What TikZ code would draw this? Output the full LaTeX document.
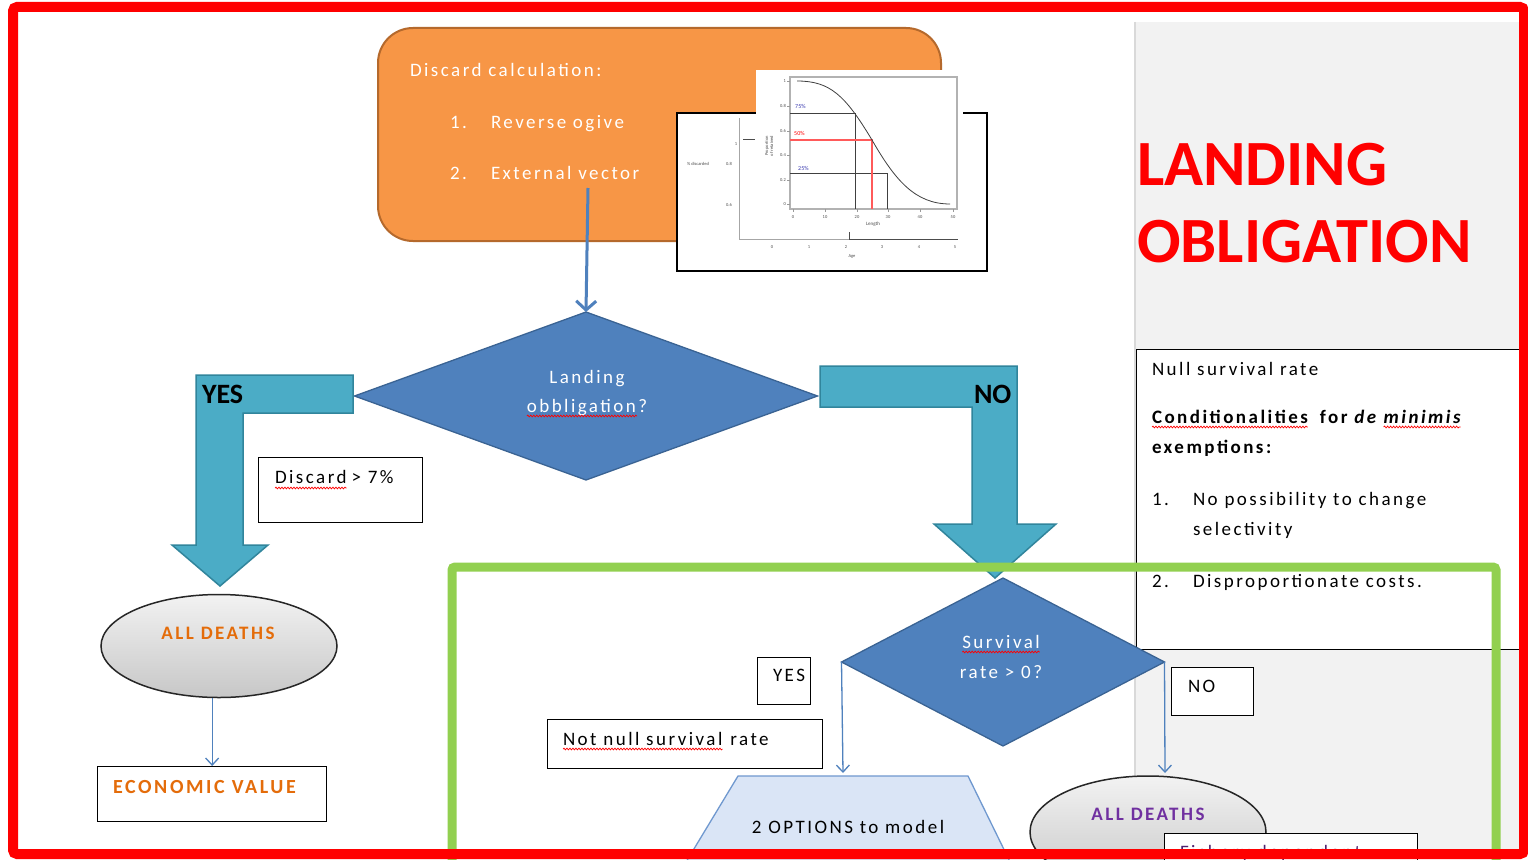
\documentclass[tikz,border=0pt]{standalone}
\usepackage{fontspec}
\setmainfont{Carlito}[LetterSpace=13]
\newfontfamily\titlefont{Carlito}
\newfontfamily\plainfont{Carlito}
\usetikzlibrary{shapes.geometric,arrows.meta,decorations.pathmorphing,calc}

\definecolor{frameRed}{HTML}{FF0000}
\definecolor{frameGreen}{HTML}{92D050}
\definecolor{panelGray}{HTML}{F2F2F2}
\definecolor{orangeFill}{HTML}{F79646}
\definecolor{orangeLine}{HTML}{B5692C}
\definecolor{diaFill}{HTML}{4F81BD}
\definecolor{diaLine}{HTML}{3A6393}
\definecolor{tealFill}{HTML}{4BACC6}
\definecolor{tealLine}{HTML}{31859C}
\definecolor{deathOrange}{HTML}{E46C0A}
\definecolor{deathPurple}{HTML}{7030A0}
\definecolor{trapFill}{HTML}{DAE5F6}
\definecolor{trapLine}{HTML}{6F98CF}
\definecolor{plotBlue}{HTML}{3A3AB0}
\definecolor{plotRed}{HTML}{FF5A5A}

\begin{document}
\begin{tikzpicture}[x=1pt,y=-1pt,
  txt/.style={inner sep=0pt, outer sep=0pt, anchor=base west, font=\fontsize{19}{22}\selectfont},
  ctxt/.style={txt, anchor=base},
  boldtxt/.style={txt, font=\fontsize{19}{22}\selectfont\bfseries},
  tiny/.style={inner sep=0pt, font=\plainfont\fontsize{4.5}{5}\selectfont, text=black!70},
  squig/.style={draw=red, line width=0.7pt, decorate,
    decoration={snake, amplitude=0.9pt, segment length=3pt}},
  textbox/.style={draw=black, line width=1.3pt, fill=white, inner sep=0pt, anchor=north west},
  decision/.style={diamond, draw=diaLine, line width=1.3pt, fill=diaFill, inner sep=0pt, outer sep=0pt},
  bigarrow/.style={fill=tealFill, draw=tealLine, line width=1.5pt, line join=miter},
  biglabel/.style={txt, font=\plainfont\fontsize{28}{32}\selectfont\bfseries},
  flow/.style={draw=diaFill, line width=1.3pt, -{Straight Barb[length=7pt,width=13pt]}},
  deathsel/.style={ellipse, draw=black!85, line width=1.5pt, top color=black!5, bottom color=black!22, inner sep=0pt}
]
\useasboundingbox (0,0) rectangle (1528,859);
\fill[white] (0,0) rectangle (1528,859);

% ---- grey side panel ----
\fill[panelGray] (1135,22) rectangle (1522,859);
\draw[black!15, line width=1.5pt] (1135,22) -- (1135,859);

% ---- title ----
\node[txt, font=\titlefont\fontsize{64.5}{77}\selectfont\bfseries, text=frameRed] (title1) at (1137,185) {LANDING};
\node[txt, font=\titlefont\fontsize{64.5}{77}\selectfont\bfseries, text=frameRed] (title2) at (1137,262) {OBLIGATION};

% ---- discard calculation box ----
\node[draw=orangeLine, line width=2pt, fill=orangeFill, rounded corners=35pt,
      minimum width=563pt, minimum height=213pt, anchor=north west, inner sep=0pt] (calc) at (377,27) {};
\node[txt, text=white] (calcT) at (410,77) {Discard calculation:};
\node[txt, text=white] (calcN1) at (450,128) {1.};
\node[txt, text=white] (calcI1) at (491,128) {Reverse ogive};
\node[txt, text=white] (calcN2) at (450,179) {2.};
\node[txt, text=white] (calcI2) at (491,179) {External vector};

% ---- ogive chart inset: age panel behind ----
\node[draw=black, line width=1.5pt, fill=white, minimum width=310pt, minimum height=158pt,
      anchor=north west, inner sep=0pt] (agePlot) at (676,112) {};
\draw[black!35, line width=0.8pt] (739,118) -- (739,239) -- (958,239);
\draw[black!70, line width=0.8pt] (849,232) -- (849,239) -- (958,239);
\draw[black!70, line width=0.6pt] (743,139) -- (755,139);
\node[tiny] (aLab) at (698,164) {\% discarded};
\node[tiny] (a1) at (736,144) {1};
\node[tiny] (a08) at (729,164) {0.8};
\node[tiny] (a06) at (729,205) {0.6};
\foreach \xv/\lab in {772/0,809/1,846/2,882/3,919/4,955/5}
  \node[tiny] (ax\lab) at (\xv,247) {\lab};
\node[tiny] (ageLab) at (852,256) {Age};

% ---- ogive chart inset: length panel in front ----
\fill[white] (756,70) rectangle (963,229);
\draw[black!30, line width=1.2pt] (790,77) rectangle (957,209);
\foreach \yv/\lab in {81/1,106/0.8,131/0.6,155/0.4,180/0.2,204/0}
  {\draw[black!40, line width=0.5pt] (787,\yv) -- (790,\yv);
   \node[tiny, anchor=east] at (786,\yv) {\lab};}
\foreach \xv/\lab in {793/0,825/10,857/20,888/30,920/40,953/50}
  {\draw[black!40, line width=0.5pt] (\xv,209) -- (\xv,212);
   \node[tiny] at (\xv,217) {\lab};}
\node[tiny, font=\plainfont\fontsize{5}{6}\selectfont] (lenLab) at (873,224) {Length};
\node[tiny, rotate=90, align=center] (propLab) at (769,146) {Proportion\\ of retained};
\draw[black!75, line width=0.7pt] (790,113) -- (855,113) -- (855,209);
\draw[black!75, line width=0.7pt] (790,173) -- (887,173) -- (887,209);
\draw[plotRed, line width=2.4pt] (790,140) -- (872,140) -- (872,209);
\draw[black!75, line width=0.8pt] (797,81) .. controls (830,81) and (845,95) .. (872,140)
      .. controls (895,180) and (915,204) .. (950,204);
\node[tiny, anchor=west, text=plotBlue, font=\plainfont\fontsize{6}{7}\selectfont] (p75) at (795,106) {75\%};
\node[tiny, anchor=west, text=red, font=\plainfont\fontsize{6}{7}\selectfont] (p50) at (794,133) {50\%};
\node[tiny, anchor=west, text=plotBlue, font=\plainfont\fontsize{6}{7}\selectfont] (p25) at (798,168) {25\%};

% ---- landing obligation decision ----
\node[decision, minimum width=463pt, minimum height=168pt] (land) at (586,396) {};
\coordinate (calcOut) at (588,188);
\draw[flow, line width=3pt, -{Straight Barb[length=9pt,width=20pt]}] (calcOut) -- (land.north);
\node[ctxt, text=white] (landT1) at (587,383) {Landing};
\node[ctxt, text=white] (landT2) at (587,412) {obbligation?};
\draw[squig] ([yshift=-4pt]landT2.base west) -- ([yshift=-4pt,xshift=-10pt]landT2.base east);

% ---- YES branch ----
\draw[bigarrow] (353,375) -- (196,375) -- (196,545) -- (172,545) -- (220,586)
  -- (268,545) -- (243,545) -- (243,413) -- (353,413) -- cycle;
\node[biglabel] (yesBig) at (202,403) {YES};

\node[textbox, minimum width=164pt, minimum height=65pt] (discBox) at (258,457) {};
\node[txt] (discW) at (275,483) {Discard};
\node[txt] (discR) at ([xshift=5pt]discW.base east) {> 7\%};
\draw[squig] ([yshift=-5pt]discW.base west) -- ([yshift=-5pt]discW.base east);

\node[deathsel, minimum width=236pt, minimum height=103pt] (deaths1) at (219,646) {};
\node[ctxt, font=\fontsize{19}{22}\selectfont\bfseries, text=deathOrange] (deaths1T) at (218,639) {ALL DEATHS};
\node[textbox, minimum width=229pt, minimum height=55pt] (econ) at (97,766) {};
\node[txt, font=\fontsize{20}{23}\selectfont\bfseries, text=deathOrange] (econT) at (113,793) {ECONOMIC VALUE};
\draw[flow] (deaths1.south -| econ.north) -- (econ.north);

% ---- NO branch ----
\draw[bigarrow] (820,366) -- (1017,366) -- (1017,524) -- (1056,524) -- (995,578)
  -- (934,524) -- (972,524) -- (972,407) -- (820,407) -- cycle;
\node[biglabel] (noBig) at (974,403) {NO};

% ---- de minimis conditions ----
\node[textbox, minimum width=400pt, minimum height=300pt] (condBox) at (1136,349) {};
\node[txt] (nullT) at (1152,375) {Null survival rate};
\node[boldtxt] (condW) at (1152,423) {Conditionalities};
\node[boldtxt] (condFor) at ([xshift=12pt]condW.base east) {for \textit{de}};
\node[boldtxt, font=\fontsize{19}{22}\selectfont\bfseries\itshape] (condMin) at ([xshift=5pt]condFor.base east) {minimis};
\draw[squig] ([yshift=-4pt]condW.base west) -- ([yshift=-4pt]condW.base east);
\draw[squig] ([yshift=-4pt]condMin.base west) -- ([yshift=-4pt]condMin.base east);
\node[boldtxt] (condEx) at (1152,453) {exemptions:};
\node[txt] (c1n) at (1152,505) {1.};
\node[txt] (c1a) at (1193,505) {No possibility\ to change};
\node[txt] (c1b) at (1193,535) {selectivity};
\node[txt] (c2n) at (1152,587) {2.};
\node[txt] (c2a) at (1193,587) {Disproportionate\ costs.};

% ---- survival decision ----
\node[decision, minimum width=323pt, minimum height=168pt] (surv) at (1003,662) {};
\node[ctxt, text=white] (survT1) at (1001,648) {Survival};
\node[ctxt, text=white] (survT2) at (1001,678) {rate > 0?};
\draw[squig] ([yshift=-4pt]survT1.base west) -- ([yshift=-4pt]survT1.base east);

\node[textbox, minimum width=53pt, minimum height=47pt] (yesBox) at (757,657) {};
\node[txt] (yesT) at (773,681) {YES};
\node[textbox, minimum width=82pt, minimum height=48pt] (noBox) at (1171,667) {};
\node[txt] (noT) at (1188,692) {NO};

\node[textbox, minimum width=275pt, minimum height=49pt] (notNull) at (547,719) {};
\node[txt] (notNullW) at (563,745) {Not\ null\ survival};
\node[txt] (notNullR) at ([xshift=8pt]notNullW.base east) {rate};
\draw[squig] ([yshift=-4pt]notNullW.base west) -- ([yshift=-4pt]notNullW.base east);

% ---- survival outcomes ----
\coordinate (optTop) at (843,773);
\coordinate (deadTop) at (1165,773);
\draw[flow] (surv.west) -- (optTop);
\draw[flow] (surv.east) -- (deadTop);

\draw[fill=trapFill, draw=trapLine, line width=1.3pt] (738,776) -- (968,776) -- (1015,872) -- (680,872) -- cycle;
\node[ctxt] (optT) at (848,833) {2 OPTIONS to\ model};

\node[deathsel, minimum width=236pt, minimum height=112pt] (deaths2) at (1148,832) {};
\node[ctxt, font=\fontsize{19}{22}\selectfont\bfseries, text=deathPurple] (deaths2T) at (1148,820) {ALL DEATHS};
\node[textbox, minimum width=253pt, minimum height=40pt] (fishBox) at (1164,833) {};
\node[txt, text=deathPurple!70!black] (fishT) at (1180,858) {Fishery dependent};

% ---- highlight frames ----
\draw[frameGreen, line width=9pt, rounded corners=3pt] (452,880) -- (452,567) -- (1496,567) -- (1496,880);
\draw[frameRed, line width=10pt, rounded corners=4pt] (13,7) rectangle (1524,854);
\end{tikzpicture}
\end{document}
